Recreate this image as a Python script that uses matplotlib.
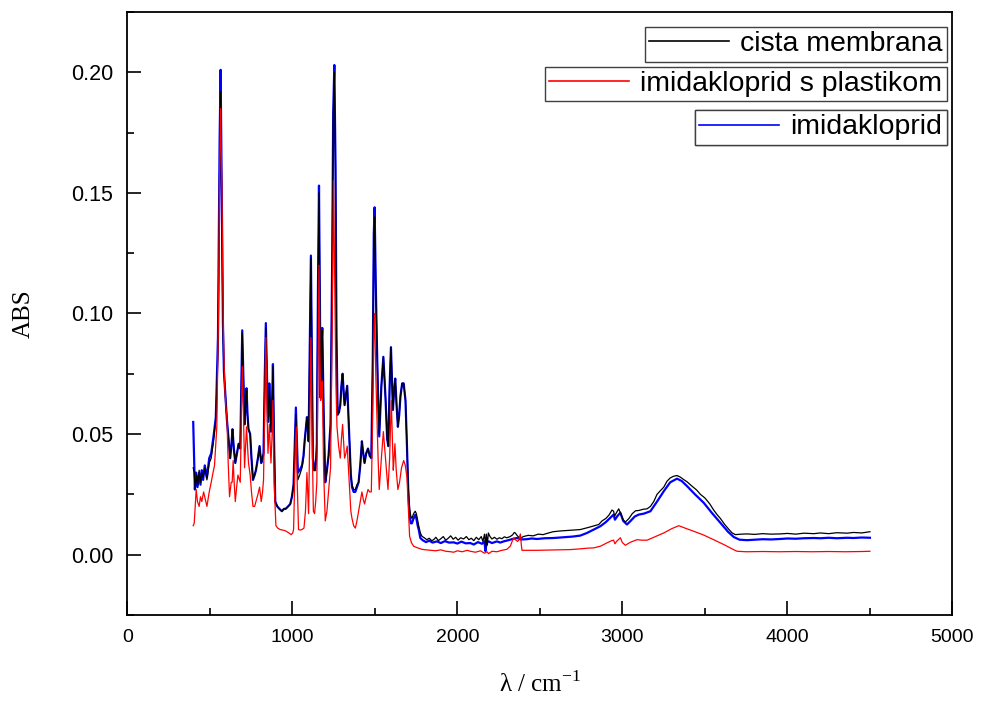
import numpy as np
import matplotlib
matplotlib.use('Agg')
import matplotlib.pyplot as plt

# (wavenumber cm-1, ABS)
cista_pts = [
    (400, 0.036), (406, 0.034), (412, 0.027), (420, 0.033), (428, 0.029), (436, 0.035),
    (444, 0.030), (452, 0.034), (460, 0.032), (470, 0.036), (483, 0.031), (497, 0.038),
    (509, 0.040), (523, 0.047), (537, 0.056), (550, 0.085), (560, 0.160), (566, 0.192),
    (572, 0.150), (580, 0.095), (586, 0.076), (595, 0.066), (604, 0.056), (614, 0.048),
    (624, 0.040), (632, 0.046), (638, 0.052), (646, 0.044), (655, 0.038), (665, 0.042),
    (675, 0.046), (685, 0.044), (692, 0.070), (697, 0.092), (703, 0.075), (711, 0.054),
    (717, 0.062), (723, 0.068), (729, 0.058), (735, 0.052), (745, 0.050), (753, 0.040),
    (762, 0.031), (772, 0.033), (780, 0.035), (792, 0.040), (802, 0.045), (812, 0.038),
    (820, 0.040), (826, 0.042), (833, 0.070), (840, 0.094), (847, 0.072), (853, 0.055),
    (861, 0.070), (866, 0.062), (871, 0.051), (877, 0.060), (883, 0.078), (889, 0.050),
    (897, 0.022), (909, 0.020), (922, 0.019), (937, 0.018), (950, 0.019), (960, 0.019),
    (975, 0.020), (988, 0.021), (998, 0.024), (1008, 0.029), (1016, 0.045), (1022, 0.058),
    (1028, 0.045), (1034, 0.031), (1045, 0.033), (1059, 0.036), (1068, 0.040), (1075, 0.047),
    (1089, 0.057), (1095, 0.052), (1099, 0.047), (1106, 0.085), (1113, 0.123), (1119, 0.080),
    (1125, 0.040), (1133, 0.035), (1139, 0.035), (1145, 0.040), (1149, 0.046), (1156, 0.110),
    (1162, 0.150), (1168, 0.100), (1172, 0.065), (1177, 0.085), (1182, 0.093), (1190, 0.060),
    (1200, 0.030), (1210, 0.035), (1220, 0.041), (1232, 0.054), (1242, 0.120), (1248, 0.180),
    (1255, 0.200), (1262, 0.160), (1268, 0.090), (1275, 0.058), (1283, 0.059), (1291, 0.062),
    (1298, 0.070), (1305, 0.075), (1311, 0.068), (1317, 0.062), (1325, 0.066), (1333, 0.070),
    (1345, 0.050), (1355, 0.033), (1362, 0.029), (1372, 0.027), (1382, 0.027), (1392, 0.029),
    (1402, 0.030), (1412, 0.037), (1422, 0.047), (1430, 0.042), (1438, 0.038), (1448, 0.042),
    (1459, 0.044), (1469, 0.041), (1479, 0.040), (1488, 0.080), (1494, 0.130), (1499, 0.140),
    (1506, 0.110), (1513, 0.087), (1520, 0.065), (1527, 0.050), (1540, 0.070), (1552, 0.082),
    (1565, 0.065), (1575, 0.048), (1582, 0.045), (1590, 0.070), (1598, 0.086), (1605, 0.070),
    (1610, 0.060), (1617, 0.068), (1624, 0.073), (1632, 0.062), (1640, 0.053), (1648, 0.058),
    (1656, 0.066), (1666, 0.071), (1675, 0.071), (1686, 0.064), (1695, 0.045), (1703, 0.028),
    (1711, 0.019), (1718, 0.016), (1725, 0.015), (1735, 0.017), (1745, 0.018), (1752, 0.017),
    (1760, 0.014), (1766, 0.012), (1776, 0.009), (1786, 0.0076), (1800, 0.0070), (1815, 0.0062),
    (1830, 0.0068), (1845, 0.0058), (1857, 0.0062), (1870, 0.0072), (1885, 0.0058), (1900, 0.0066),
    (1915, 0.0075), (1930, 0.0060), (1945, 0.0068), (1960, 0.0078), (1975, 0.0064), (1990, 0.0072),
    (2005, 0.0060), (2020, 0.0070), (2038, 0.0065), (2055, 0.0075), (2070, 0.0062), (2085, 0.0068),
    (2100, 0.0058), (2115, 0.0072), (2130, 0.0062), (2145, 0.0075), (2155, 0.0055), (2165, 0.0085),
    (2172, 0.0030), (2176, 0.0085), (2182, 0.0040), (2188, 0.0090), (2198, 0.0075), (2210, 0.0065),
    (2225, 0.0072), (2240, 0.0064), (2255, 0.0070), (2270, 0.0066), (2285, 0.0074), (2300, 0.0070),
    (2320, 0.0075), (2335, 0.0082), (2345, 0.0092), (2351, 0.0090), (2362, 0.0080), (2372, 0.0072),
    (2382, 0.0068), (2400, 0.0075), (2430, 0.0080), (2460, 0.0078), (2490, 0.0085), (2520, 0.0083),
    (2543, 0.0088), (2580, 0.0095), (2620, 0.0098), (2660, 0.0100), (2700, 0.0102), (2745, 0.0104),
    (2790, 0.0112), (2830, 0.0120), (2857, 0.0125), (2877, 0.0140), (2900, 0.0150), (2920, 0.0165),
    (2937, 0.0185), (2947, 0.0180), (2953, 0.0160), (2965, 0.0175), (2978, 0.0190), (2990, 0.0170),
    (3005, 0.0145), (3018, 0.0135), (3040, 0.0150), (3060, 0.0170), (3080, 0.0182), (3099, 0.0183),
    (3125, 0.0188), (3150, 0.0190), (3170, 0.0200), (3190, 0.0220), (3210, 0.0250), (3230, 0.0265),
    (3251, 0.0280), (3271, 0.0305), (3290, 0.0318), (3310, 0.0325), (3331, 0.0328), (3350, 0.0322),
    (3370, 0.0312), (3392, 0.0302), (3420, 0.0285), (3450, 0.0268), (3473, 0.0250), (3500, 0.0235),
    (3530, 0.0210), (3553, 0.0185), (3575, 0.0165), (3594, 0.0150), (3620, 0.0125), (3645, 0.0105),
    (3665, 0.0090), (3685, 0.0083), (3720, 0.0085), (3756, 0.0086), (3800, 0.0084), (3850, 0.0087),
    (3900, 0.0085), (3958, 0.0086), (4000, 0.0088), (4050, 0.0085), (4100, 0.0089), (4160, 0.0087),
    (4200, 0.0090), (4250, 0.0087), (4300, 0.0091), (4362, 0.0089), (4400, 0.0092), (4450, 0.0090),
    (4500, 0.0095),
]

plastik_pts = [
    (400, 0.012), (406, 0.013), (412, 0.020), (418, 0.027), (426, 0.022), (436, 0.020),
    (444, 0.024), (452, 0.022), (463, 0.026), (473, 0.023), (483, 0.020), (497, 0.026),
    (509, 0.030), (520, 0.034), (529, 0.037), (543, 0.053), (553, 0.100), (560, 0.160),
    (566, 0.185), (574, 0.150), (582, 0.095), (590, 0.071), (597, 0.062), (604, 0.057),
    (612, 0.038), (620, 0.024), (630, 0.030), (636, 0.030), (642, 0.039), (648, 0.030),
    (655, 0.022), (663, 0.028), (671, 0.033), (680, 0.031), (685, 0.030), (691, 0.055),
    (697, 0.078), (704, 0.060), (711, 0.036), (717, 0.045), (723, 0.053), (729, 0.045),
    (735, 0.038), (745, 0.033), (753, 0.026), (762, 0.020), (772, 0.020), (780, 0.022),
    (792, 0.025), (802, 0.028), (812, 0.022), (820, 0.026), (826, 0.031), (833, 0.060),
    (840, 0.090), (847, 0.060), (853, 0.042), (861, 0.054), (866, 0.046), (871, 0.038),
    (877, 0.048), (883, 0.064), (890, 0.030), (901, 0.012), (912, 0.011), (927, 0.0104),
    (942, 0.0102), (958, 0.0099), (975, 0.0092), (994, 0.0083), (1003, 0.0090), (1008, 0.0104),
    (1013, 0.025), (1018, 0.044), (1024, 0.053), (1030, 0.030), (1038, 0.0104), (1050, 0.0102),
    (1060, 0.0105), (1071, 0.0110), (1080, 0.018), (1089, 0.034), (1094, 0.025), (1099, 0.017),
    (1106, 0.050), (1113, 0.090), (1120, 0.050), (1128, 0.018), (1135, 0.017), (1142, 0.022),
    (1149, 0.030), (1156, 0.080), (1162, 0.120), (1167, 0.085), (1172, 0.064), (1177, 0.070),
    (1182, 0.072), (1190, 0.035), (1200, 0.014), (1210, 0.018), (1220, 0.026), (1232, 0.036),
    (1242, 0.095), (1250, 0.155), (1258, 0.110), (1265, 0.070), (1271, 0.053), (1281, 0.045),
    (1291, 0.040), (1298, 0.048), (1305, 0.054), (1311, 0.047), (1317, 0.040), (1325, 0.042),
    (1333, 0.045), (1345, 0.030), (1355, 0.018), (1362, 0.015), (1372, 0.012), (1382, 0.011),
    (1392, 0.014), (1402, 0.018), (1412, 0.022), (1422, 0.026), (1430, 0.023), (1438, 0.021),
    (1448, 0.024), (1459, 0.027), (1469, 0.026), (1479, 0.026), (1488, 0.060), (1494, 0.090),
    (1499, 0.100), (1506, 0.075), (1513, 0.057), (1520, 0.040), (1527, 0.027), (1540, 0.040),
    (1552, 0.051), (1565, 0.040), (1580, 0.027), (1590, 0.040), (1600, 0.064), (1606, 0.050),
    (1612, 0.035), (1617, 0.040), (1622, 0.046), (1630, 0.035), (1640, 0.027), (1650, 0.030),
    (1662, 0.036), (1675, 0.039), (1685, 0.037), (1695, 0.032), (1703, 0.020), (1711, 0.0076),
    (1722, 0.0050), (1735, 0.0035), (1760, 0.0028), (1786, 0.0022), (1810, 0.0020), (1840, 0.0018),
    (1870, 0.0016), (1900, 0.0020), (1930, 0.0014), (1960, 0.0012), (1978, 0.0010), (2000, 0.0016),
    (2030, 0.0012), (2060, 0.0018), (2079, 0.0014), (2110, 0.0010), (2140, 0.0016), (2165, 0.0006),
    (2180, 0.0012), (2190, 0.0004), (2210, 0.0014), (2240, 0.0012), (2270, 0.0018), (2300, 0.0022),
    (2321, 0.0035), (2335, 0.0060), (2341, 0.0069), (2352, 0.0062), (2365, 0.0055), (2372, 0.0060),
    (2382, 0.0086), (2388, 0.0040), (2392, 0.0018), (2430, 0.0018), (2483, 0.0018), (2550, 0.0019),
    (2620, 0.0020), (2685, 0.0021), (2745, 0.0024), (2790, 0.0027), (2826, 0.0028), (2867, 0.0035),
    (2907, 0.0049), (2935, 0.0058), (2947, 0.0060), (2955, 0.0045), (2965, 0.0055), (2988, 0.0070),
    (3000, 0.0050), (3018, 0.0039), (3050, 0.0052), (3089, 0.0062), (3120, 0.0060), (3150, 0.0060),
    (3200, 0.0075), (3251, 0.0090), (3300, 0.0108), (3342, 0.0120), (3380, 0.0110), (3432, 0.0097),
    (3490, 0.0082), (3553, 0.0062), (3620, 0.0040), (3670, 0.0022), (3695, 0.0014), (3750, 0.0012),
    (3850, 0.0013), (3950, 0.0012), (4050, 0.0013), (4150, 0.0012), (4250, 0.0013), (4350, 0.0012),
    (4450, 0.0013), (4500, 0.0014),
]

imid_pts = [
    (400, 0.055), (404, 0.044), (410, 0.027), (418, 0.034), (426, 0.028), (436, 0.034),
    (444, 0.029), (452, 0.035), (460, 0.031), (470, 0.037), (483, 0.032), (497, 0.040),
    (509, 0.042), (523, 0.049), (537, 0.057), (550, 0.090), (560, 0.172), (566, 0.201),
    (572, 0.155), (580, 0.096), (586, 0.076), (595, 0.066), (604, 0.056), (614, 0.048),
    (624, 0.040), (632, 0.046), (638, 0.052), (646, 0.044), (655, 0.038), (665, 0.042),
    (675, 0.046), (685, 0.044), (692, 0.072), (697, 0.093), (703, 0.076), (711, 0.054),
    (717, 0.062), (723, 0.069), (729, 0.058), (735, 0.052), (745, 0.050), (753, 0.040),
    (762, 0.031), (772, 0.033), (780, 0.035), (792, 0.040), (802, 0.045), (812, 0.038),
    (820, 0.040), (826, 0.042), (833, 0.072), (840, 0.096), (847, 0.073), (853, 0.055),
    (861, 0.071), (866, 0.062), (871, 0.051), (877, 0.060), (883, 0.079), (889, 0.050),
    (897, 0.022), (909, 0.020), (922, 0.019), (937, 0.018), (950, 0.019), (960, 0.019),
    (975, 0.020), (988, 0.021), (998, 0.024), (1008, 0.029), (1016, 0.047), (1022, 0.061),
    (1028, 0.047), (1034, 0.034), (1045, 0.035), (1059, 0.037), (1068, 0.041), (1075, 0.047),
    (1089, 0.057), (1095, 0.052), (1099, 0.047), (1106, 0.087), (1113, 0.124), (1119, 0.081),
    (1125, 0.040), (1133, 0.035), (1139, 0.035), (1145, 0.040), (1149, 0.046), (1156, 0.112),
    (1162, 0.153), (1168, 0.101), (1172, 0.065), (1177, 0.086), (1182, 0.094), (1190, 0.060),
    (1200, 0.030), (1210, 0.035), (1220, 0.041), (1232, 0.054), (1242, 0.122), (1248, 0.183),
    (1255, 0.203), (1262, 0.162), (1268, 0.091), (1275, 0.058), (1283, 0.059), (1291, 0.062),
    (1298, 0.070), (1305, 0.075), (1311, 0.068), (1317, 0.062), (1325, 0.066), (1333, 0.070),
    (1345, 0.050), (1355, 0.033), (1362, 0.028), (1372, 0.026), (1382, 0.026), (1392, 0.028),
    (1402, 0.030), (1412, 0.037), (1422, 0.047), (1430, 0.042), (1438, 0.038), (1448, 0.042),
    (1459, 0.044), (1469, 0.041), (1479, 0.040), (1488, 0.082), (1494, 0.133), (1499, 0.144),
    (1506, 0.112), (1513, 0.087), (1520, 0.065), (1527, 0.049), (1540, 0.070), (1552, 0.082),
    (1565, 0.065), (1575, 0.048), (1582, 0.045), (1590, 0.070), (1598, 0.086), (1605, 0.070),
    (1610, 0.060), (1617, 0.068), (1624, 0.073), (1632, 0.062), (1640, 0.053), (1648, 0.058),
    (1656, 0.066), (1666, 0.071), (1675, 0.071), (1686, 0.064), (1695, 0.045), (1703, 0.026),
    (1711, 0.016), (1718, 0.013), (1725, 0.013), (1735, 0.015), (1745, 0.0165), (1752, 0.015),
    (1760, 0.012), (1766, 0.0105), (1776, 0.0069), (1790, 0.0060), (1810, 0.0052), (1830, 0.0058),
    (1850, 0.0050), (1877, 0.0055), (1900, 0.0048), (1925, 0.0056), (1950, 0.0050), (1978, 0.0051),
    (2000, 0.0046), (2025, 0.0054), (2050, 0.0047), (2079, 0.0048), (2100, 0.0042), (2125, 0.0052),
    (2150, 0.0045), (2165, 0.0055), (2170, 0.0015), (2178, 0.0050), (2190, 0.0055), (2210, 0.0048),
    (2240, 0.0055), (2260, 0.0050), (2281, 0.0055), (2310, 0.0060), (2340, 0.0066), (2362, 0.0069),
    (2385, 0.0063), (2420, 0.0064), (2450, 0.0067), (2483, 0.0065), (2530, 0.0068), (2584, 0.0069),
    (2640, 0.0072), (2700, 0.0075), (2745, 0.0079), (2786, 0.0090), (2830, 0.0105), (2867, 0.0118),
    (2900, 0.0135), (2930, 0.0155), (2947, 0.0166), (2955, 0.0145), (2970, 0.0160), (2988, 0.0174),
    (3005, 0.0140), (3028, 0.0125), (3050, 0.0140), (3075, 0.0158), (3099, 0.0166), (3130, 0.0170),
    (3170, 0.0180), (3210, 0.0220), (3251, 0.0263), (3290, 0.0300), (3331, 0.0315), (3360, 0.0305),
    (3392, 0.0284), (3440, 0.0250), (3493, 0.0215), (3540, 0.0175), (3594, 0.0132), (3640, 0.0095),
    (3675, 0.0073), (3710, 0.0062), (3756, 0.0060), (3800, 0.0062), (3850, 0.0064), (3900, 0.0063),
    (3958, 0.0065), (4000, 0.0067), (4050, 0.0066), (4100, 0.0068), (4160, 0.0069), (4200, 0.0068),
    (4250, 0.0070), (4300, 0.0068), (4362, 0.0070), (4400, 0.0069), (4450, 0.0071), (4500, 0.0070),
]

labels = ['cista membrana', 'imidakloprid s plastikom', 'imidakloprid']
colors = ['black', 'red', 'blue']

x_c, y_c = np.array(cista_pts).T
x_p, y_p = np.array(plastik_pts).T
x_i, y_i = np.array(imid_pts).T

plt.rcParams['font.family'] = ['Liberation Sans', 'DejaVu Sans']

fig = plt.figure(figsize=(9.86, 7.02), dpi=100)
ax = fig.add_axes([0.129, 0.124, 0.837, 0.859])

l_i, = ax.plot(x_i, y_i, color=colors[2], lw=1.6, zorder=2)
l_c, = ax.plot(x_c, y_c, color=colors[0], lw=0.9, zorder=3)
l_p, = ax.plot(x_p, y_p, color=colors[1], lw=0.9, zorder=4)

ax.set_xlim(0, 5000)
ax.set_ylim(-0.025, 0.225)
ax.set_xticks(np.arange(0, 5001, 1000))
ax.set_xticks(np.arange(500, 5000, 1000), minor=True)
ax.set_yticks([0.00, 0.05, 0.10, 0.15, 0.20])
ax.set_yticks([-0.025, 0.025, 0.075, 0.125, 0.175, 0.225], minor=True)
ax.yaxis.set_major_formatter(matplotlib.ticker.FormatStrFormatter('%.2f'))
ax.tick_params(which='both', direction='in', top=False, right=False, width=1.2)
ax.tick_params(which='major', length=10, pad=10)
ax.tick_params(which='minor', length=5)
ax.tick_params(axis='y', labelsize=15.5)
ax.tick_params(axis='x', labelsize=14)
for sp in ax.spines.values():
    sp.set_linewidth(1.3)

ax.set_ylabel('ABS', family='Liberation Serif', fontsize=18)
ax.set_xlabel(r'λ / cm$^{\mathregular{-1}}$', family='Liberation Serif', fontsize=18)
ax.yaxis.set_label_coords(-0.112, 0.5)
ax.xaxis.set_label_coords(0.5, -0.093)

# three separate legend boxes, stacked at the top right
tops = [0.975, 0.909, 0.837]
for handle, lab, top in zip([l_c, l_p, l_i], labels, tops):
    leg = ax.legend([handle], [lab], loc='upper right', bbox_to_anchor=(0.993, top),
                    fontsize=20.5, frameon=True, fancybox=False, framealpha=1,
                    edgecolor='#404040', borderpad=0.15, handlelength=2.8,
                    handletextpad=0.4, borderaxespad=0)
    leg.get_frame().set_linewidth(1.0)
    for ln in leg.get_lines():
        ln.set_linewidth(1.2)
    ax.add_artist(leg)

fig.savefig('out.png', dpi=100)
